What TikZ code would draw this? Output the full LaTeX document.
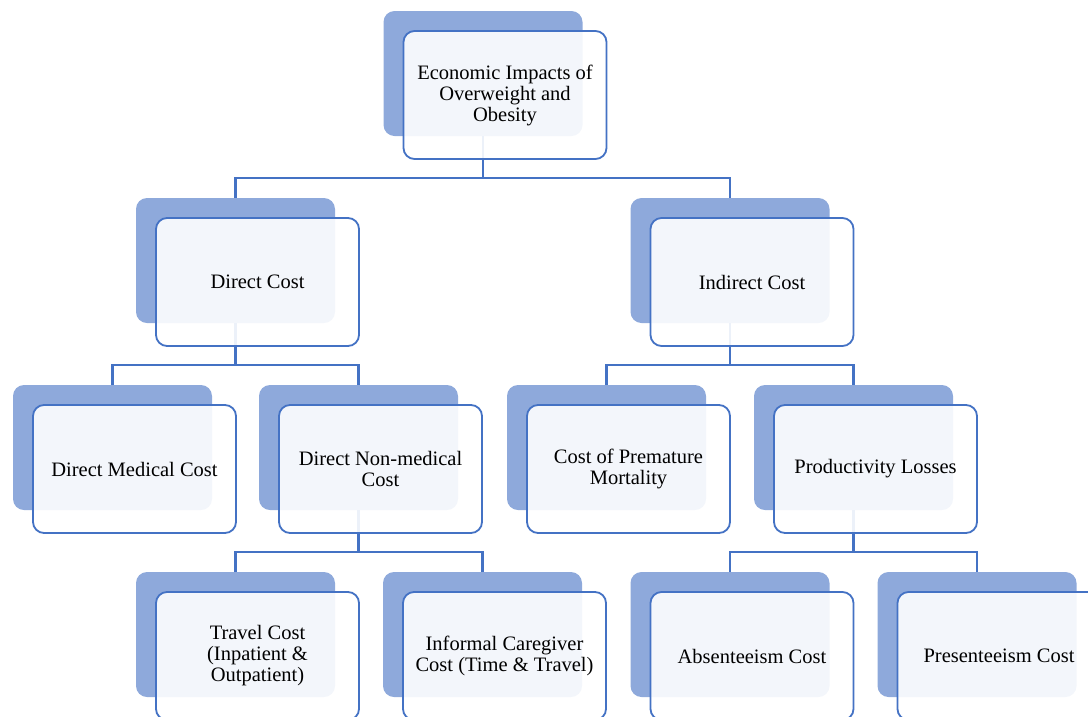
\documentclass[tikz,border=0pt]{standalone}
\usepackage{fontspec}
\setmainfont{Liberation Serif}
\usetikzlibrary{calc}
\definecolor{boxblue}{HTML}{8EA9DB}
\definecolor{lineblue}{HTML}{4472C4}
\tikzset{
  backbox/.style={fill=boxblue, rounded corners=11pt, minimum width=199pt, minimum height=125pt, inner sep=0pt, outer sep=0pt},
  frontbox/.style={draw=lineblue, line width=1.8pt, fill=white, fill opacity=0.9, text opacity=1, rounded corners=11pt, minimum width=203pt, minimum height=128pt, inner sep=0pt, outer sep=0pt, align=center, font=\fontsize{20.5}{21}\selectfont},
  link/.style={draw=lineblue, line width=2.2pt}
}
\begin{document}
\begin{tikzpicture}[x=1pt,y=-1pt]
\useasboundingbox (0,0) rectangle (1088,716);
\clip (0,0) rectangle (1088,716);
% back boxes
\foreach \nm/\x/\y in {top/483/73.5, dc/235.5/260.5, ic/730/260.5, dmc/112.5/447.5, dnm/358.5/447.5, cpm/606.5/447.5, pl/853.5/447.5, tc/235.5/634.5, ifc/482.5/634.5, ab/730/634.5, pr/977/634.5} {
  \node[backbox] (\nm-b) at (\x,\y) {};
}
% connectors
\draw[link] (top-b.south) -- ++(0,42) -| (dc-b.north);
\draw[link] (top-b.south) -- ++(0,42) -| (ic-b.north);
\draw[link] (dc-b.south) -- ++(0,42) -| (dmc-b.north);
\draw[link] (dc-b.south) -- ++(0,42) -| (dnm-b.north);
\draw[link] (ic-b.south) -- ++(0,42) -| (cpm-b.north);
\draw[link] (ic-b.south) -- ++(0,42) -| (pl-b.north);
\draw[link] (dnm-b.south) -- ++(0,42) -| (tc-b.north);
\draw[link] (dnm-b.south) -- ++(0,42) -| (ifc-b.north);
\draw[link] (pl-b.south) -- ++(0,42) -| (ab-b.north);
\draw[link] (pl-b.south) -- ++(0,42) -| (pr-b.north);
% front boxes
\foreach \nm/\txt in {top/{Economic Impacts of\\Overweight and\\Obesity}, dc/{Direct Cost}, ic/{Indirect Cost}, dmc/{Direct Medical Cost}, dnm/{Direct Non-medical\\Cost}, cpm/{Cost of Premature\\Mortality}, pl/{Productivity Losses}, tc/{Travel Cost\\(Inpatient \&\\Outpatient)}, ifc/{Informal Caregiver\\Cost (Time \& Travel)}, ab/{Absenteeism Cost}, pr/{Presenteeism Cost}} {
  \node[frontbox] (\nm) at ($(\nm-b.center)+(22,21.5)$) {\txt};
}
\end{tikzpicture}
\end{document}
